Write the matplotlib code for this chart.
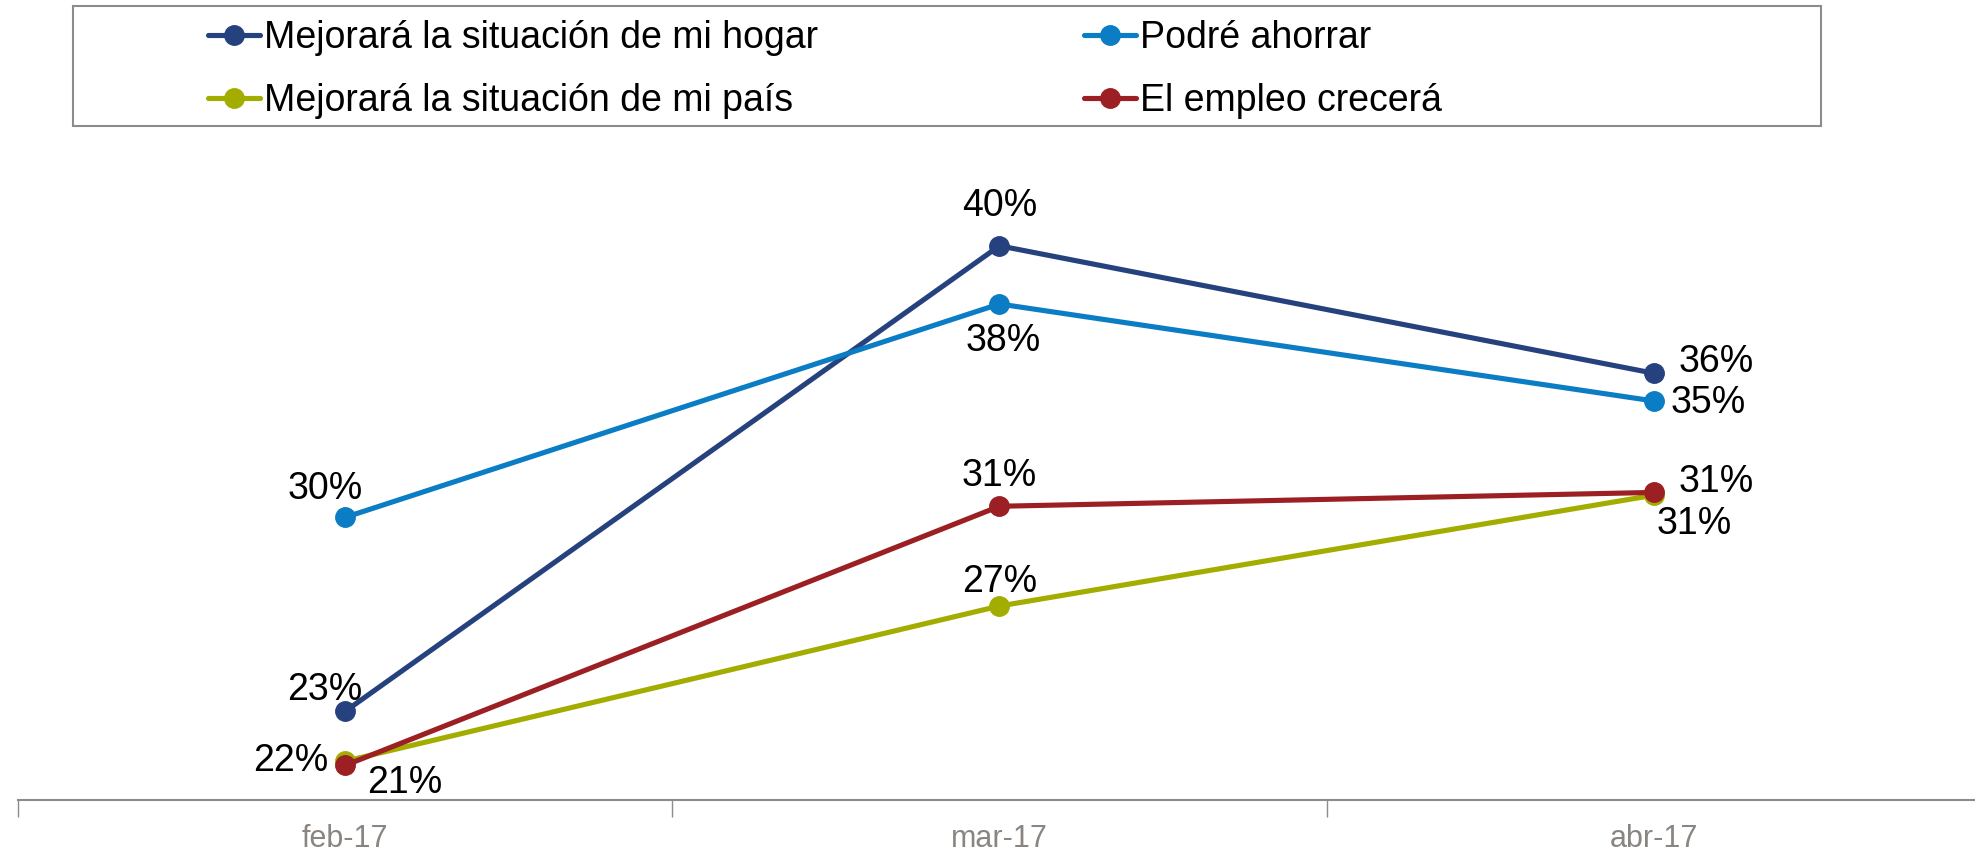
import matplotlib
matplotlib.use("Agg")
import matplotlib.pyplot as plt
from matplotlib.patches import Rectangle

plt.rcParams['font.family'] = ['Liberation Sans', 'DejaVu Sans']

# ---- data ----
categories = ["feb-17", "mar-17", "abr-17"]
series_names = ["Mejorará la situación de mi hogar", "Podré ahorrar",
                "Mejorará la situación de mi país", "El empleo crecerá"]
hogar = [23.4, 40.2, 35.6]
ahorrar = [30.4, 38.1, 34.6]
pais = [21.6, 27.2, 31.2]
empleo = [21.45, 30.8, 31.3]

colors = ["#25427f", "#0b7dc4", "#a3ad00", "#9c1f24"]
# label offsets in pixels (dx, dy) per series/point
offsets = [
    [(-20, 21), (0, 40), (62, 11)],
    [(-20, 28), (4, -37), (54, -2)],
    [(-54, 0), (0, 24), (40, -29)],
    [(60, -18), (0, 30), (62, 10)],
]

W, H = 1975, 855
fig = plt.figure(figsize=(W / 100, H / 100), dpi=100)

y0, y1 = 20.2, 44.0
px_per_unit = 27.71
ax_bottom_px = 800
ax_h = (y1 - y0) * px_per_unit
ax = fig.add_axes([18 / W, (H - ax_bottom_px) / H, 1963 / W, ax_h / H])

x = list(range(len(categories)))
all_series = [hogar, ahorrar, pais, empleo]
for i in range(len(all_series)):
    vals = all_series[i]
    ax.plot(x, vals, color=colors[i], lw=3.7, marker='o', ms=14,
            label=series_names[i], solid_capstyle='round', zorder=3)
    for j, v in enumerate(vals):
        dx, dy = offsets[i][j]
        ax.annotate(f"{v:.0f}%", (x[j], v), xytext=(dx, dy),
                    textcoords='offset pixels', ha='center', va='center',
                    fontsize=27, color='black', zorder=5)

ax.set_xlim(-0.5, 2.5)
ax.set_ylim(y0, y1)
for s in ['top', 'right', 'left']:
    ax.spines[s].set_visible(False)
ax.spines['bottom'].set_color('#8c8c8c')
ax.spines['bottom'].set_linewidth(1.5)
ax.set_yticks([])
ax.set_xticks(x)
ax.set_xticklabels(categories, color='#8a8580', fontsize=22)
ax.set_xticks([-0.5, 0.5, 1.5, 2.5], minor=True)
ax.tick_params(axis='x', which='major', length=0, pad=17)
ax.tick_params(axis='x', which='minor', length=12, width=1, color='#8c8c8c')

# legend frame
fig.patches.append(Rectangle((73 / W, 1 - 126 / H), (1821 - 73) / W, 120 / H,
                             transform=fig.transFigure, fill=False,
                             edgecolor='#8c8c8c', lw=1.5))
handles, labels = ax.get_legend_handles_labels()
order = [0, 2, 1, 3]
fig.legend([handles[k] for k in order], [labels[k] for k in order],
           ncol=2, frameon=False, loc='upper left',
           bbox_to_anchor=(208 / W, 1 - 20 / H), borderpad=0, borderaxespad=0,
           fontsize=27, handlelength=1.39, handletextpad=0.1,
           columnspacing=7.1, labelspacing=0.72)

fig.savefig("out.png", dpi=100)
